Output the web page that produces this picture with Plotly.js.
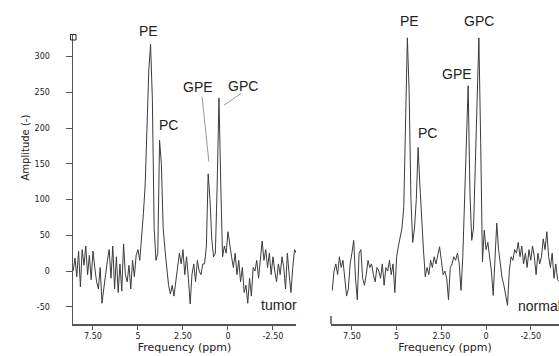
<!DOCTYPE html>
<html><head><meta charset="utf-8">
<script src="https://cdn.plot.ly/plotly-3.0.1.min.js"></script>
<style>html,body{margin:0;padding:0;background:#fff}#c{width:559px;height:356px}</style>
</head><body><div id="c"></div>
<script>
// Spectra sampled from 8.6 ppm downward in 0.1 ppm steps
const ppmStart = 8.6;
const ppmStep = -0.1;
const tumorAmp = [
  0, 18, -8, 28, -22, 30, 8, 35, -5, 22,
  -12, 28, 5, -15, -25, 5, -45, -20, -5, 15,
  30, -10, 35, -25, 20, -30, 10, -28, 38, -5,
  -15, 8, -25, 15, -8, 22, 30, 15, 45, 80,
  120, 190, 280, 317, 240, 60, 15, 25, 183, 150,
  60, 30, 5, -20, -32, -20, -35, -15, 5, 25,
  10, 30, -5, 20, -10, -46, -5, 10, -15, 15,
  0, -5, 10, 10, 35, 136, 100, 45, 20, 25,
  120, 242, 120, 20, 35, 25, 55, 35, 20, 5,
  25, -5, 15, -15, 5, -30, -20, -45, -10, -35,
  5, 0, 15, -10, 20, 42, 15, 30, 5, 25,
  -5, 20, 0, -15, 10, -5, 20, 5, -25, 25,
  -5, -30, 5, 30, 25
];
const normalAmp = [
  -27, 0, 10, -5, 20, 5, 15, -10, -35, -25,
  10, 25, 43, -10, -40, 25, 30, -10, -20, -5,
  15, 5, 10, -5, -15, 5, 0, -10, 10, -20,
  5, 0, 15, -5, 10, -30, 20, 35, 50, 60,
  90, 200, 326, 250, 100, 40, 60, 100, 173, 120,
  70, 30, -8, 5, -5, 15, 5, 20, 10, 25,
  34, 15, -5, 0, -10, -40, 5, 10, 20, 15,
  25, 10, -27, 20, 90, 180, 259, 110, 43, 60,
  150, 250, 326, 180, 13, 57, 30, 40, 20, 0,
  -34, 20, 67, 30, 10, -10, -20, -35, -48, 0,
  20, 15, 30, 25, 40, 20, 35, 10, 25, 5,
  30, 15, 35, 20, -5, 25, 10, 20, 45, 30,
  55, 20, 5, 25, -10, 10, -12, -15
];
const xTickVals = [7.5, 5, 2.5, 0, -2.5];
const xTickText = ['7.50', '5', '2.50', '0', '-2.50'];
const yTickVals = [-50, 0, 50, 100, 150, 200, 250, 300];
const yTickText = ['-50', '0', '50', '100', '150', '200', '250', '300'];

const W = 559, H = 356, L = 73, R = 0, T = 35, B = 32;
const pw = W - L - R, ph = H - T - B;
const px = v => (v - L) / pw;
const py = v => (H - B - v) / ph;

const lineStyle = {color: '#3c3c3c', width: 1};
const traces = [
  {type: 'scatter', mode: 'lines', y: tumorAmp, x0: ppmStart, dx: ppmStep,
   xaxis: 'x', yaxis: 'y', line: lineStyle, hoverinfo: 'skip'},
  {type: 'scatter', mode: 'lines', y: normalAmp, x0: ppmStart, dx: ppmStep,
   xaxis: 'x2', yaxis: 'y', line: lineStyle, hoverinfo: 'skip'}
];

const tickFont = {family: 'DejaVu Sans', size: 8, color: '#222'};
const xCommon = {
  tickmode: 'array', tickvals: xTickVals, ticktext: xTickText,
  ticks: 'outside', ticklen: 4, tickcolor: '#555', tickwidth: 1,
  showline: true, linecolor: '#555', linewidth: 1.5,
  showgrid: false, zeroline: false, tickfont: tickFont,
  anchor: 'y', automargin: false,
  title: {text: 'Frequency (ppm)', font: {family: 'DejaVu Sans', size: 11, color: '#222'}, standoff: 2}
};
const labFont = {family: 'Liberation Sans', size: 14, color: '#222'};
function lab(text, x, y, xref, anchor, yref) {
  return {text, x, y, xref, yref: yref || 'y', showarrow: false, font: labFont,
          xanchor: anchor || 'center', yanchor: 'middle'};
}
const layout = {
  width: W, height: H,
  margin: {l: L, r: R, t: T, b: B},
  paper_bgcolor: '#fff', plot_bgcolor: '#fff',
  showlegend: false,
  xaxis: Object.assign({}, xCommon, {domain: [0, px(296)], range: [8.61, -3.78]}),
  xaxis2: Object.assign({}, xCommon, {domain: [px(331), 1], range: [8.67, -4.08]}),
  yaxis: {
    range: [-74, 330], tickmode: 'array', tickvals: yTickVals, ticktext: yTickText,
    ticks: 'outside', ticklen: 6, tickcolor: '#555', tickwidth: 1,
    ticklabelstandoff: 14,
    showline: true, linecolor: '#555', linewidth: 1.5,
    showgrid: false, zeroline: false, tickfont: tickFont, automargin: false
  },
  annotations: [
    lab('PE', 4.39, py(31), 'x', 'center', 'paper'),
    lab('PC', 3.3, 204, 'x'),
    lab('GPE', 1.67, 258, 'x'),
    lab('GPC', -0.83, 259, 'x'),
    lab('tumor', -1.72, -48, 'x', 'left'),
    lab('PE', 4.27, py(21), 'x2', 'center', 'paper'),
    lab('GPC', 0.39, py(21), 'x2', 'center', 'paper'),
    lab('GPE', 1.65, 276, 'x2'),
    lab('PC', 3.3, 193, 'x2'),
    lab('normal', -1.68, -49, 'x2', 'left'),
    {text: 'Amplitude (-)', textangle: -90, xref: 'paper', yref: 'paper',
     x: px(17), y: py(148), showarrow: false,
     font: {family: 'DejaVu Sans', size: 10, color: '#222'}}
  ],
  shapes: [
    {type: 'line', xref: 'x', yref: 'y', x0: 1.44, y0: 244, x1: 1.06, y1: 153,
     line: {color: '#999', width: 1}},
    {type: 'line', xref: 'x', yref: 'y', x0: -0.72, y0: 248, x1: 0.22, y1: 232,
     line: {color: '#999', width: 1}},
    {type: 'rect', xref: 'paper', yref: 'paper', x0: px(70.5), x1: px(76), y0: py(40), y1: py(34.5),
     line: {color: '#222', width: 1}, fillcolor: 'rgba(0,0,0,0)'},
    {type: 'line', xref: 'paper', yref: 'paper', x0: px(331), x1: px(331), y0: 0, y1: py(316),
     line: {color: '#555', width: 1.5}}
  ]
};
Plotly.newPlot('c', traces, layout, {staticPlot: true, displayModeBar: false});
</script></body></html>
